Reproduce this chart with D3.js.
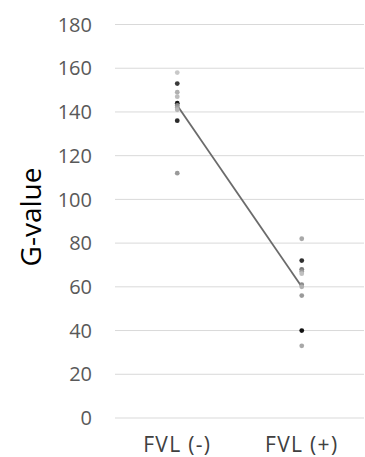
<!DOCTYPE html>
<html>
<head>
<meta charset="utf-8">
<script src="https://cdn.jsdelivr.net/npm/d3@7"></script>
<style>
  body { margin: 0; background: #fff; }
  svg { display: block; font-family: "Open Sans", "Liberation Sans", sans-serif; }
</style>
</head>
<body>
<div id="chart"></div>
<script>
const categories = ['FVL (-)', 'FVL (+)'];
const yTicks = [0, 20, 40, 60, 80, 100, 120, 140, 160, 180];
const fvlNeg = [158, 153, 149, 147, 144, 143, 142, 141, 136, 112];
const fvlPos = [82, 72, 68, 67, 66, 61, 60, 56, 40, 33];
const shadeNeg = ['#c8c8c8', '#3a3a3a', '#b0b0b0', '#bdbdbd', '#1a1a1a', '#8a8a8a', '#a0a0a0', '#b8b8b8', '#2a2a2a', '#9a9a9a'];
const shadePos = ['#a8a8a8', '#2e2e2e', '#7a7a7a', '#9a9a9a', '#c0c0c0', '#8a8a8a', '#b0b0b0', '#9a9a9a', '#111111', '#a8a8a8'];
const lineValues = [143, 60];

const width = 365, height = 457;
const margin = { top: 24.5, right: 1, bottom: 39, left: 115 };

const svg = d3.select('#chart').append('svg')
  .attr('width', width).attr('height', height);

const x = d3.scaleBand()
  .domain(categories)
  .range([margin.left, width - margin.right]);

const y = d3.scaleLinear()
  .domain([0, 180])
  .range([height - margin.bottom, margin.top]);

// gridlines
svg.append('g')
  .selectAll('line')
  .data(yTicks)
  .join('line')
  .attr('x1', margin.left).attr('x2', width - margin.right)
  .attr('y1', d => y(d)).attr('y2', d => y(d))
  .style('stroke', '#d9d9d9').style('stroke-width', 1);

// y tick labels
svg.append('g')
  .selectAll('text')
  .data(yTicks)
  .join('text')
  .attr('x', 92).attr('y', d => y(d))
  .attr('dy', '0.36em')
  .style('text-anchor', 'end')
  .style('font-size', '20px')
  .style('fill', '#595959')
  .text(d => d);

// category labels
svg.append('g')
  .selectAll('text')
  .data(categories)
  .join('text')
  .attr('x', d => x(d) + x.bandwidth() / 2)
  .attr('y', 452)
  .style('text-anchor', 'middle')
  .style('font-size', '21px')
  .style('letter-spacing', '1.3px')
  .style('fill', '#404040')
  .text(d => d);

// axis title
svg.append('text')
  .attr('transform', `translate(41, 217) rotate(-90)`)
  .style('text-anchor', 'middle')
  .style('font-size', '28px')
  .style('fill', '#000')
  .text('G-value');

const cx = c => x(c) + x.bandwidth() / 2;

// trend line between means
svg.append('path')
  .datum(lineValues)
  .attr('d', d3.line()
    .x((d, i) => cx(categories[i]))
    .y(d => y(d)))
  .style('fill', 'none')
  .style('stroke', '#6b6b6b')
  .style('stroke-width', 1.8);

// points
[[fvlNeg, shadeNeg], [fvlPos, shadePos]].forEach(([vals, shades], i) => {
  svg.append('g')
    .selectAll('circle')
    .data(vals)
    .join('circle')
    .attr('cx', cx(categories[i]))
    .attr('cy', d => y(d))
    .attr('r', 2.4)
    .style('fill', (d, j) => shades[j]);
});
</script>
</body>
</html>
